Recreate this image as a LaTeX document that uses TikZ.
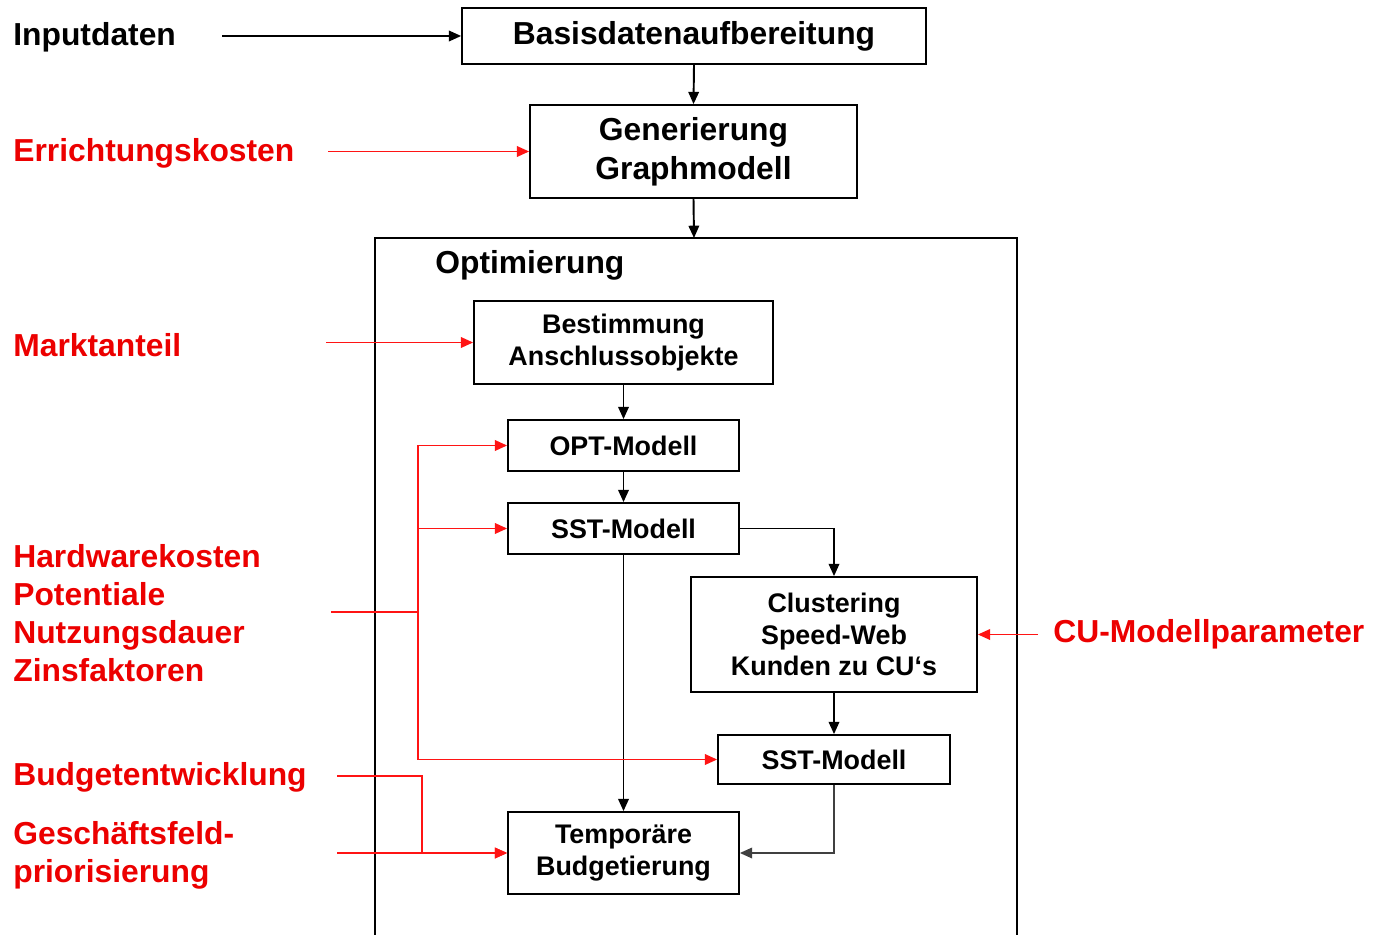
\documentclass[tikz,border=0pt]{standalone}
\usepackage{fontspec}
\setmainfont{Liberation Sans}
\usetikzlibrary{arrows.meta}
\definecolor{inred}{RGB}{236,0,0}
\definecolor{linered}{RGB}{255,20,20}

\begin{document}
\begin{tikzpicture}[x=0.02cm,y=-0.02cm,
    box/.style={draw,line width=1pt,inner sep=0pt,align=center,
      font=\bfseries\fontsize{15.3}{17.9}\selectfont},
    bigbox/.style={box,font=\bfseries\fontsize{18.1}{22.1}\selectfont},
    inlabel/.style={anchor=west,inner sep=0pt,align=left,
      font=\bfseries\fontsize{18.1}{21.5}\selectfont},
    flow/.style={line width=1.1pt,-{Triangle[length=7pt,width=6pt]}},
    redflow/.style={flow,linered}]
  \useasboundingbox (0,0) rectangle (1385,935);
  % boxes
  \node[bigbox,minimum width=9.28cm,minimum height=1.12cm]
    (basis) at (694,36) {Basisdatenaufbereitung};
  \node[bigbox,minimum width=6.54cm,minimum height=1.86cm]
    (gen) at (693.5,151.5) {Generierung\\Graphmodell};
  \node[box,minimum width=5.98cm,minimum height=1.66cm]
    (best) at (623.5,342.5) {Bestimmung\\Anschlussobjekte};
  \node[box,minimum width=4.62cm,minimum height=1.02cm]
    (opt) at (623.5,445.5) {OPT-Modell};
  \node[box,minimum width=4.62cm,minimum height=1.02cm]
    (sstA) at (623.5,528.5) {SST-Modell};
  \node[box,minimum width=5.72cm,minimum height=2.30cm]
    (clu) at (834,634.5) {Clustering\\Speed-Web\\Kunden zu CU‘s};
  \node[box,minimum width=4.64cm,minimum height=0.98cm]
    (sstB) at (834,759.5) {SST-Modell};
  \node[box,minimum width=4.62cm,minimum height=1.64cm]
    (temp) at (623.5,853) {Temporäre\\Budgetierung};
  % frame
  \draw[line width=1pt]
    (375,935)
    |-
    (1017,238)
    --
    (1017,935);
  \coordinate (opttop) at (694,238);
  \node[inlabel] (opttitle) at (435,265) {Optimierung};
  % input labels
  \node[inlabel] (inp) at (13,37) {Inputdaten};
  \node[inlabel,text=inred] (err) at (13,153) {Errichtungskosten};
  \node[inlabel,text=inred] (markt) at (13,345) {Marktanteil};
  \node[inlabel,text=inred] (hw) at (13,613)
    {Hardwarekosten\\Potentiale\\Nutzungsdauer\\Zinsfaktoren};
  \node[inlabel,text=inred] (budg) at (13,777) {Budgetentwicklung};
  \node[inlabel,text=inred] (gesch) at (13,855)
    {Geschäftsfeld-\\priorisierung};
  \node[inlabel,text=inred] (cu) at (1053,634) {CU-Modellparameter};
  \coordinate (inpout) at (222,36);
  \coordinate (errout) at (328,151.5);
  \coordinate (marktout) at (326,342.5);
  \coordinate (hwout) at (331,612);
  \coordinate (hwbus) at (418,612);
  \coordinate (budgout) at (337,776);
  \coordinate (budgbend) at (422,776);
  \coordinate (geschout) at (337,853);
  \coordinate (cuout) at (1038,634.5);
  % black flow
  \draw[flow]
    (inpout)
    --
    (basis.west);
  \draw[flow]
    (basis.south)
    --
    (gen.north);
  \draw[flow]
    (gen.south)
    --
    (opttop);
  \draw[flow]
    (best.south)
    --
    (opt.north);
  \draw[flow]
    (opt.south)
    --
    (sstA.north);
  \draw[flow]
    (sstA.east)
    -|
    (clu.north);
  \draw[flow]
    (sstA.south)
    --
    (temp.north);
  \draw[flow]
    (clu.south)
    --
    (sstB.north);
  \draw[flow,black!75]
    (sstB.south)
    |-
    (temp.east);
  % red flow
  \draw[redflow]
    (errout)
    --
    (gen.west);
  \draw[redflow]
    (marktout)
    --
    (best.west);
  \draw[linered,line width=1.1pt]
    (hwout)
    --
    (hwbus);
  \draw[redflow]
    (hwbus)
    |-
    (opt.west);
  \draw[redflow]
    (hwbus)
    |-
    (sstA.west);
  \draw[redflow]
    (hwbus)
    |-
    (sstB.west);
  \draw[redflow]
    (budgout)
    --
    (budgbend)
    |-
    (temp.west);
  \draw[redflow]
    (geschout)
    --
    (temp.west);
  \draw[redflow]
    (cuout)
    --
    (clu.east);
\end{tikzpicture}
\end{document}
